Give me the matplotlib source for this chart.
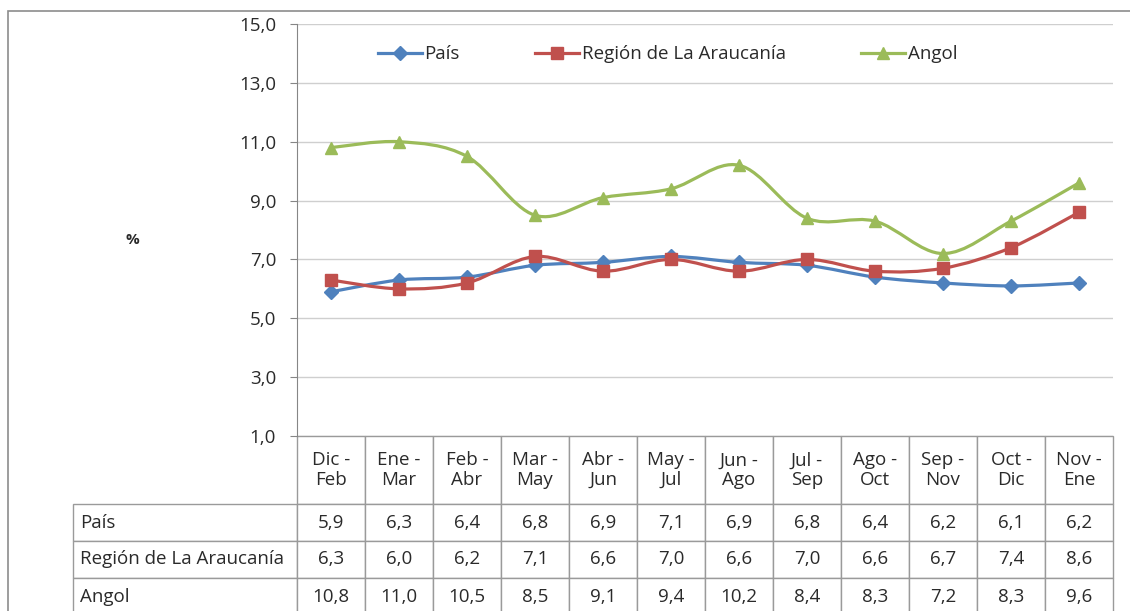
import matplotlib
matplotlib.use("Agg")
import matplotlib.pyplot as plt
from matplotlib.path import Path
from matplotlib.patches import PathPatch, Rectangle
from matplotlib.lines import Line2D
from matplotlib.table import Table

plt.rcParams['font.family'] = ['Open Sans', 'DejaVu Sans']

# datos
periodos = ["Dic -\nFeb", "Ene -\nMar", "Feb -\nAbr", "Mar -\nMay", "Abr -\nJun", "May -\nJul",
            "Jun -\nAgo", "Jul -\nSep", "Ago -\nOct", "Sep -\nNov", "Oct -\nDic", "Nov -\nEne"]
series = ["País", "Región de La Araucanía", "Angol"]
pais = [5.9, 6.3, 6.4, 6.8, 6.9, 7.1, 6.9, 6.8, 6.4, 6.2, 6.1, 6.2]
region = [6.3, 6.0, 6.2, 7.1, 6.6, 7.0, 6.6, 7.0, 6.6, 6.7, 7.4, 8.6]
angol = [10.8, 11.0, 10.5, 8.5, 9.1, 9.4, 10.2, 8.4, 8.3, 7.2, 8.3, 9.6]
yticks = [1, 3, 5, 7, 9, 11, 13, 15]

colores = ["#4F81BD", "#C0504D", "#9BBB59"]
marcadores = ["D", "s", "^"]
tam_marc = [7, 8, 9]

W, H = 1130, 611
fig = plt.figure(figsize=(W / 100, H / 100), dpi=100)

# marco exterior
fig.patches.append(Rectangle((8 / W, 1 - 1.05), 1.2, 1.05 - 11 / H, transform=fig.transFigure,
                             fill=False, edgecolor="#8C8C8C", linewidth=1.2))

x0, x1, ytop, ybot = 297, 1113, 24, 436
ax = fig.add_axes([x0 / W, 1 - ybot / H, (x1 - x0) / W, (ybot - ytop) / H])
ax.set_xlim(-0.5, len(periodos) - 0.5)
ax.set_ylim(1, 15)
ax.set_yticks(yticks)
ax.set_yticklabels([f"{v:.1f}".replace(".", ",") for v in yticks], fontsize=13.5, color="#2A2A2A")
ax.set_xticks([])
ax.yaxis.grid(True, color="#CFCFCF", linewidth=1)
ax.set_axisbelow(True)
for s in ["top", "right", "bottom"]:
    ax.spines[s].set_visible(False)
ax.spines["left"].set_color("#868686")
ax.tick_params(axis="y", length=5, color="#868686", pad=10)
fig.text(132 / W, 1 - 240 / H, "%", fontsize=11, fontweight="bold", ha="center", va="center",
         color="#2A2A2A")


def curva_suave(xs, ys):
    pts = list(zip(xs, ys))
    verts = [pts[0]]
    codes = [Path.MOVETO]
    n = len(pts)
    for i in range(n - 1):
        p0 = pts[i - 1] if i > 0 else pts[i]
        p1 = pts[i]
        p2 = pts[i + 1]
        p3 = pts[i + 2] if i + 2 < n else pts[i + 1]
        c1 = (p1[0] + (p2[0] - p0[0]) / 6, p1[1] + (p2[1] - p0[1]) / 6)
        c2 = (p2[0] - (p3[0] - p1[0]) / 6, p2[1] - (p3[1] - p1[1]) / 6)
        verts += [c1, c2, p2]
        codes += [Path.CURVE4] * 3
    return Path(verts, codes)


xs = list(range(len(periodos)))
handles = []
for vals, col, mk, ms, nom in zip([pais, region, angol], colores, marcadores, tam_marc, series):
    ax.add_patch(PathPatch(curva_suave(xs, vals), fill=False, edgecolor=col, linewidth=2.3, zorder=3))
    ax.plot(xs, vals, linestyle="none", marker=mk, markersize=ms, color=col, zorder=4)
    handles.append(Line2D([], [], color=col, linewidth=2.3, marker=mk, markersize=ms))

ax.legend(handles, series, loc="center", bbox_to_anchor=(0.454, 0.927), ncol=3, frameon=False,
          fontsize=13.5, handlelength=2.35, handletextpad=0.15, columnspacing=4.0,
          labelcolor="#2A2A2A")

# tabla de datos
col_w = 1.0 / len(periodos)
lab_w = (x0 - 73) / (x1 - x0)
alto_fila = 37 / (ybot - ytop)
alto_cab = 68 / (ybot - ytop)
total = alto_cab + 3 * alto_fila
tabla = Table(ax, bbox=[0, -total, 1, total])
for j, p in enumerate(periodos):
    tabla.add_cell(0, j, width=col_w, height=alto_cab, text=p, loc="center")
for i, (nom, fila) in enumerate(zip(series, [pais, region, angol])):
    c = tabla.add_cell(i + 1, -1, width=lab_w, height=alto_fila, text=nom, loc="left")
    c.PAD = 0.03
    for j, v in enumerate(fila):
        tabla.add_cell(i + 1, j, width=col_w, height=alto_fila,
                       text=f"{v:.1f}".replace(".", ","), loc="center")
tabla.auto_set_font_size(False)
tabla.set_fontsize(13.5)
for cell in tabla.get_celld().values():
    cell.set_edgecolor("#9A9A9A")
    cell.set_linewidth(1)
    cell.get_text().set_color("#2A2A2A")
    cell.get_text().set_linespacing(1.1)
ax.add_table(tabla)

fig.savefig("out.png", dpi=100)
